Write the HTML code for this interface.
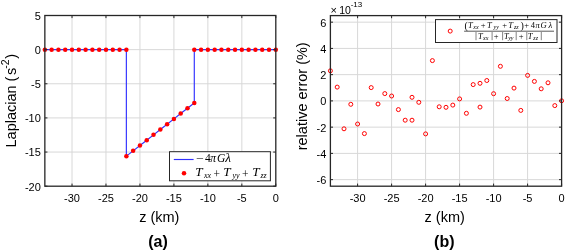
<!DOCTYPE html>
<html><head><meta charset="utf-8"><style>
html,body{margin:0;padding:0;background:#fff;width:565px;height:250px;overflow:hidden;font-family:"Liberation Sans",sans-serif;}
svg{display:block;will-change:transform;filter:blur(0.3px);}
</style></head><body>
<svg width="565" height="250" viewBox="0 0 565 250" font-family="Liberation Sans, sans-serif" fill="#000">
<rect width="565" height="250" fill="#fff"/>
<line x1="72.02" y1="15.5" x2="72.02" y2="186.2" stroke="#d8d8d8" stroke-width="1"/>
<line x1="105.98" y1="15.5" x2="105.98" y2="186.2" stroke="#d8d8d8" stroke-width="1"/>
<line x1="139.95" y1="15.5" x2="139.95" y2="186.2" stroke="#d8d8d8" stroke-width="1"/>
<line x1="173.91" y1="15.5" x2="173.91" y2="186.2" stroke="#d8d8d8" stroke-width="1"/>
<line x1="207.87" y1="15.5" x2="207.87" y2="186.2" stroke="#d8d8d8" stroke-width="1"/>
<line x1="241.84" y1="15.5" x2="241.84" y2="186.2" stroke="#d8d8d8" stroke-width="1"/>
<line x1="44.85" y1="49.64" x2="275.8" y2="49.64" stroke="#d8d8d8" stroke-width="1"/>
<line x1="44.85" y1="83.78" x2="275.8" y2="83.78" stroke="#d8d8d8" stroke-width="1"/>
<line x1="44.85" y1="117.92" x2="275.8" y2="117.92" stroke="#d8d8d8" stroke-width="1"/>
<line x1="44.85" y1="152.06" x2="275.8" y2="152.06" stroke="#d8d8d8" stroke-width="1"/>
<line x1="357.60" y1="15.6" x2="357.60" y2="186.2" stroke="#d8d8d8" stroke-width="1"/>
<line x1="391.60" y1="15.6" x2="391.60" y2="186.2" stroke="#d8d8d8" stroke-width="1"/>
<line x1="425.60" y1="15.6" x2="425.60" y2="186.2" stroke="#d8d8d8" stroke-width="1"/>
<line x1="459.60" y1="15.6" x2="459.60" y2="186.2" stroke="#d8d8d8" stroke-width="1"/>
<line x1="493.60" y1="15.6" x2="493.60" y2="186.2" stroke="#d8d8d8" stroke-width="1"/>
<line x1="527.60" y1="15.6" x2="527.60" y2="186.2" stroke="#d8d8d8" stroke-width="1"/>
<line x1="330.4" y1="22.16" x2="561.6" y2="22.16" stroke="#d8d8d8" stroke-width="1"/>
<line x1="330.4" y1="48.41" x2="561.6" y2="48.41" stroke="#d8d8d8" stroke-width="1"/>
<line x1="330.4" y1="74.65" x2="561.6" y2="74.65" stroke="#d8d8d8" stroke-width="1"/>
<line x1="330.4" y1="100.90" x2="561.6" y2="100.90" stroke="#d8d8d8" stroke-width="1"/>
<line x1="330.4" y1="127.15" x2="561.6" y2="127.15" stroke="#d8d8d8" stroke-width="1"/>
<line x1="330.4" y1="153.39" x2="561.6" y2="153.39" stroke="#d8d8d8" stroke-width="1"/>
<line x1="330.4" y1="179.64" x2="561.6" y2="179.64" stroke="#d8d8d8" stroke-width="1"/>
<polyline points="44.85,49.64 51.64,49.64 58.44,49.64 65.23,49.64 72.02,49.64 78.81,49.64 85.61,49.64 92.40,49.64 99.19,49.64 105.98,49.64 112.78,49.64 119.57,49.64 126.36,49.64 126.36,156.16 133.15,150.83 139.95,145.51 146.74,140.18 153.53,134.85 160.33,129.53 167.12,124.20 173.91,118.88 180.70,113.55 187.50,108.22 194.29,102.90 194.29,49.64 201.08,49.64 207.87,49.64 214.67,49.64 221.46,49.64 228.25,49.64 235.04,49.64 241.84,49.64 248.63,49.64 255.42,49.64 262.21,49.64 269.01,49.64 275.80,49.64" fill="none" stroke="#3030ff" stroke-width="1.15"/>
<circle cx="44.85" cy="49.64" r="2.25" fill="#ff0000"/>
<circle cx="51.64" cy="49.64" r="2.25" fill="#ff0000"/>
<circle cx="58.44" cy="49.64" r="2.25" fill="#ff0000"/>
<circle cx="65.23" cy="49.64" r="2.25" fill="#ff0000"/>
<circle cx="72.02" cy="49.64" r="2.25" fill="#ff0000"/>
<circle cx="78.81" cy="49.64" r="2.25" fill="#ff0000"/>
<circle cx="85.61" cy="49.64" r="2.25" fill="#ff0000"/>
<circle cx="92.40" cy="49.64" r="2.25" fill="#ff0000"/>
<circle cx="99.19" cy="49.64" r="2.25" fill="#ff0000"/>
<circle cx="105.98" cy="49.64" r="2.25" fill="#ff0000"/>
<circle cx="112.78" cy="49.64" r="2.25" fill="#ff0000"/>
<circle cx="119.57" cy="49.64" r="2.25" fill="#ff0000"/>
<circle cx="126.36" cy="49.64" r="2.25" fill="#ff0000"/>
<circle cx="126.36" cy="156.16" r="2.25" fill="#ff0000"/>
<circle cx="133.15" cy="150.83" r="2.25" fill="#ff0000"/>
<circle cx="139.95" cy="145.51" r="2.25" fill="#ff0000"/>
<circle cx="146.74" cy="140.18" r="2.25" fill="#ff0000"/>
<circle cx="153.53" cy="134.85" r="2.25" fill="#ff0000"/>
<circle cx="160.33" cy="129.53" r="2.25" fill="#ff0000"/>
<circle cx="167.12" cy="124.20" r="2.25" fill="#ff0000"/>
<circle cx="173.91" cy="118.88" r="2.25" fill="#ff0000"/>
<circle cx="180.70" cy="113.55" r="2.25" fill="#ff0000"/>
<circle cx="187.50" cy="108.22" r="2.25" fill="#ff0000"/>
<circle cx="194.29" cy="102.90" r="2.25" fill="#ff0000"/>
<circle cx="194.29" cy="49.64" r="2.25" fill="#ff0000"/>
<circle cx="201.08" cy="49.64" r="2.25" fill="#ff0000"/>
<circle cx="207.87" cy="49.64" r="2.25" fill="#ff0000"/>
<circle cx="214.67" cy="49.64" r="2.25" fill="#ff0000"/>
<circle cx="221.46" cy="49.64" r="2.25" fill="#ff0000"/>
<circle cx="228.25" cy="49.64" r="2.25" fill="#ff0000"/>
<circle cx="235.04" cy="49.64" r="2.25" fill="#ff0000"/>
<circle cx="241.84" cy="49.64" r="2.25" fill="#ff0000"/>
<circle cx="248.63" cy="49.64" r="2.25" fill="#ff0000"/>
<circle cx="255.42" cy="49.64" r="2.25" fill="#ff0000"/>
<circle cx="262.21" cy="49.64" r="2.25" fill="#ff0000"/>
<circle cx="269.01" cy="49.64" r="2.25" fill="#ff0000"/>
<circle cx="275.80" cy="49.64" r="2.25" fill="#ff0000"/>
<circle cx="330.40" cy="70.80" r="2.0" fill="none" stroke="#ff0000" stroke-width="1"/>
<circle cx="337.20" cy="87.10" r="2.0" fill="none" stroke="#ff0000" stroke-width="1"/>
<circle cx="344.00" cy="128.80" r="2.0" fill="none" stroke="#ff0000" stroke-width="1"/>
<circle cx="350.80" cy="104.30" r="2.0" fill="none" stroke="#ff0000" stroke-width="1"/>
<circle cx="357.60" cy="124.00" r="2.0" fill="none" stroke="#ff0000" stroke-width="1"/>
<circle cx="364.40" cy="133.60" r="2.0" fill="none" stroke="#ff0000" stroke-width="1"/>
<circle cx="371.20" cy="87.60" r="2.0" fill="none" stroke="#ff0000" stroke-width="1"/>
<circle cx="378.00" cy="104.00" r="2.0" fill="none" stroke="#ff0000" stroke-width="1"/>
<circle cx="384.80" cy="93.60" r="2.0" fill="none" stroke="#ff0000" stroke-width="1"/>
<circle cx="391.60" cy="96.00" r="2.0" fill="none" stroke="#ff0000" stroke-width="1"/>
<circle cx="398.40" cy="109.60" r="2.0" fill="none" stroke="#ff0000" stroke-width="1"/>
<circle cx="405.20" cy="120.20" r="2.0" fill="none" stroke="#ff0000" stroke-width="1"/>
<circle cx="412.00" cy="120.20" r="2.0" fill="none" stroke="#ff0000" stroke-width="1"/>
<circle cx="412.00" cy="97.30" r="2.0" fill="none" stroke="#ff0000" stroke-width="1"/>
<circle cx="418.80" cy="102.30" r="2.0" fill="none" stroke="#ff0000" stroke-width="1"/>
<circle cx="425.60" cy="133.90" r="2.0" fill="none" stroke="#ff0000" stroke-width="1"/>
<circle cx="432.40" cy="60.60" r="2.0" fill="none" stroke="#ff0000" stroke-width="1"/>
<circle cx="439.20" cy="106.80" r="2.0" fill="none" stroke="#ff0000" stroke-width="1"/>
<circle cx="446.00" cy="107.30" r="2.0" fill="none" stroke="#ff0000" stroke-width="1"/>
<circle cx="452.80" cy="105.10" r="2.0" fill="none" stroke="#ff0000" stroke-width="1"/>
<circle cx="459.60" cy="98.90" r="2.0" fill="none" stroke="#ff0000" stroke-width="1"/>
<circle cx="466.40" cy="113.30" r="2.0" fill="none" stroke="#ff0000" stroke-width="1"/>
<circle cx="473.20" cy="84.60" r="2.0" fill="none" stroke="#ff0000" stroke-width="1"/>
<circle cx="480.00" cy="83.30" r="2.0" fill="none" stroke="#ff0000" stroke-width="1"/>
<circle cx="480.00" cy="107.10" r="2.0" fill="none" stroke="#ff0000" stroke-width="1"/>
<circle cx="486.80" cy="80.50" r="2.0" fill="none" stroke="#ff0000" stroke-width="1"/>
<circle cx="493.60" cy="93.70" r="2.0" fill="none" stroke="#ff0000" stroke-width="1"/>
<circle cx="500.40" cy="66.30" r="2.0" fill="none" stroke="#ff0000" stroke-width="1"/>
<circle cx="507.20" cy="98.50" r="2.0" fill="none" stroke="#ff0000" stroke-width="1"/>
<circle cx="514.00" cy="88.10" r="2.0" fill="none" stroke="#ff0000" stroke-width="1"/>
<circle cx="520.80" cy="110.40" r="2.0" fill="none" stroke="#ff0000" stroke-width="1"/>
<circle cx="527.60" cy="75.40" r="2.0" fill="none" stroke="#ff0000" stroke-width="1"/>
<circle cx="534.40" cy="81.40" r="2.0" fill="none" stroke="#ff0000" stroke-width="1"/>
<circle cx="541.20" cy="88.80" r="2.0" fill="none" stroke="#ff0000" stroke-width="1"/>
<circle cx="548.00" cy="82.80" r="2.0" fill="none" stroke="#ff0000" stroke-width="1"/>
<circle cx="554.80" cy="105.60" r="2.0" fill="none" stroke="#ff0000" stroke-width="1"/>
<circle cx="561.60" cy="100.80" r="2.0" fill="none" stroke="#ff0000" stroke-width="1"/>
<line x1="72.02" y1="186.2" x2="72.02" y2="183.6" stroke="#262626" stroke-width="1"/>
<line x1="72.02" y1="15.5" x2="72.02" y2="18.1" stroke="#262626" stroke-width="1"/>
<line x1="105.98" y1="186.2" x2="105.98" y2="183.6" stroke="#262626" stroke-width="1"/>
<line x1="105.98" y1="15.5" x2="105.98" y2="18.1" stroke="#262626" stroke-width="1"/>
<line x1="139.95" y1="186.2" x2="139.95" y2="183.6" stroke="#262626" stroke-width="1"/>
<line x1="139.95" y1="15.5" x2="139.95" y2="18.1" stroke="#262626" stroke-width="1"/>
<line x1="173.91" y1="186.2" x2="173.91" y2="183.6" stroke="#262626" stroke-width="1"/>
<line x1="173.91" y1="15.5" x2="173.91" y2="18.1" stroke="#262626" stroke-width="1"/>
<line x1="207.87" y1="186.2" x2="207.87" y2="183.6" stroke="#262626" stroke-width="1"/>
<line x1="207.87" y1="15.5" x2="207.87" y2="18.1" stroke="#262626" stroke-width="1"/>
<line x1="241.84" y1="186.2" x2="241.84" y2="183.6" stroke="#262626" stroke-width="1"/>
<line x1="241.84" y1="15.5" x2="241.84" y2="18.1" stroke="#262626" stroke-width="1"/>
<line x1="275.80" y1="186.2" x2="275.80" y2="183.6" stroke="#262626" stroke-width="1"/>
<line x1="275.80" y1="15.5" x2="275.80" y2="18.1" stroke="#262626" stroke-width="1"/>
<line x1="44.85" y1="15.50" x2="47.45" y2="15.50" stroke="#262626" stroke-width="1"/>
<line x1="275.8" y1="15.50" x2="273.2" y2="15.50" stroke="#262626" stroke-width="1"/>
<line x1="44.85" y1="49.64" x2="47.45" y2="49.64" stroke="#262626" stroke-width="1"/>
<line x1="275.8" y1="49.64" x2="273.2" y2="49.64" stroke="#262626" stroke-width="1"/>
<line x1="44.85" y1="83.78" x2="47.45" y2="83.78" stroke="#262626" stroke-width="1"/>
<line x1="275.8" y1="83.78" x2="273.2" y2="83.78" stroke="#262626" stroke-width="1"/>
<line x1="44.85" y1="117.92" x2="47.45" y2="117.92" stroke="#262626" stroke-width="1"/>
<line x1="275.8" y1="117.92" x2="273.2" y2="117.92" stroke="#262626" stroke-width="1"/>
<line x1="44.85" y1="152.06" x2="47.45" y2="152.06" stroke="#262626" stroke-width="1"/>
<line x1="275.8" y1="152.06" x2="273.2" y2="152.06" stroke="#262626" stroke-width="1"/>
<line x1="44.85" y1="186.20" x2="47.45" y2="186.20" stroke="#262626" stroke-width="1"/>
<line x1="275.8" y1="186.20" x2="273.2" y2="186.20" stroke="#262626" stroke-width="1"/>
<rect x="44.85" y="15.5" width="230.95" height="170.70" fill="none" stroke="#262626" stroke-width="1.3"/>
<text x="72.02" y="201.7" font-size="11" text-anchor="middle">-30</text>
<text x="105.98" y="201.7" font-size="11" text-anchor="middle">-25</text>
<text x="139.95" y="201.7" font-size="11" text-anchor="middle">-20</text>
<text x="173.91" y="201.7" font-size="11" text-anchor="middle">-15</text>
<text x="207.87" y="201.7" font-size="11" text-anchor="middle">-10</text>
<text x="241.84" y="201.7" font-size="11" text-anchor="middle">-5</text>
<text x="275.80" y="201.7" font-size="11" text-anchor="middle">0</text>
<text x="40.85" y="19.90" font-size="11" text-anchor="end">5</text>
<text x="40.85" y="54.04" font-size="11" text-anchor="end">0</text>
<text x="40.85" y="88.18" font-size="11" text-anchor="end">-5</text>
<text x="40.85" y="122.32" font-size="11" text-anchor="end">-10</text>
<text x="40.85" y="156.46" font-size="11" text-anchor="end">-15</text>
<text x="40.85" y="190.60" font-size="11" text-anchor="end">-20</text>
<line x1="357.60" y1="186.2" x2="357.60" y2="183.6" stroke="#262626" stroke-width="1"/>
<line x1="357.60" y1="15.6" x2="357.60" y2="18.2" stroke="#262626" stroke-width="1"/>
<line x1="391.60" y1="186.2" x2="391.60" y2="183.6" stroke="#262626" stroke-width="1"/>
<line x1="391.60" y1="15.6" x2="391.60" y2="18.2" stroke="#262626" stroke-width="1"/>
<line x1="425.60" y1="186.2" x2="425.60" y2="183.6" stroke="#262626" stroke-width="1"/>
<line x1="425.60" y1="15.6" x2="425.60" y2="18.2" stroke="#262626" stroke-width="1"/>
<line x1="459.60" y1="186.2" x2="459.60" y2="183.6" stroke="#262626" stroke-width="1"/>
<line x1="459.60" y1="15.6" x2="459.60" y2="18.2" stroke="#262626" stroke-width="1"/>
<line x1="493.60" y1="186.2" x2="493.60" y2="183.6" stroke="#262626" stroke-width="1"/>
<line x1="493.60" y1="15.6" x2="493.60" y2="18.2" stroke="#262626" stroke-width="1"/>
<line x1="527.60" y1="186.2" x2="527.60" y2="183.6" stroke="#262626" stroke-width="1"/>
<line x1="527.60" y1="15.6" x2="527.60" y2="18.2" stroke="#262626" stroke-width="1"/>
<line x1="561.60" y1="186.2" x2="561.60" y2="183.6" stroke="#262626" stroke-width="1"/>
<line x1="561.60" y1="15.6" x2="561.60" y2="18.2" stroke="#262626" stroke-width="1"/>
<line x1="330.4" y1="22.16" x2="333.0" y2="22.16" stroke="#262626" stroke-width="1"/>
<line x1="561.6" y1="22.16" x2="559.0" y2="22.16" stroke="#262626" stroke-width="1"/>
<line x1="330.4" y1="48.41" x2="333.0" y2="48.41" stroke="#262626" stroke-width="1"/>
<line x1="561.6" y1="48.41" x2="559.0" y2="48.41" stroke="#262626" stroke-width="1"/>
<line x1="330.4" y1="74.65" x2="333.0" y2="74.65" stroke="#262626" stroke-width="1"/>
<line x1="561.6" y1="74.65" x2="559.0" y2="74.65" stroke="#262626" stroke-width="1"/>
<line x1="330.4" y1="100.90" x2="333.0" y2="100.90" stroke="#262626" stroke-width="1"/>
<line x1="561.6" y1="100.90" x2="559.0" y2="100.90" stroke="#262626" stroke-width="1"/>
<line x1="330.4" y1="127.15" x2="333.0" y2="127.15" stroke="#262626" stroke-width="1"/>
<line x1="561.6" y1="127.15" x2="559.0" y2="127.15" stroke="#262626" stroke-width="1"/>
<line x1="330.4" y1="153.39" x2="333.0" y2="153.39" stroke="#262626" stroke-width="1"/>
<line x1="561.6" y1="153.39" x2="559.0" y2="153.39" stroke="#262626" stroke-width="1"/>
<line x1="330.4" y1="179.64" x2="333.0" y2="179.64" stroke="#262626" stroke-width="1"/>
<line x1="561.6" y1="179.64" x2="559.0" y2="179.64" stroke="#262626" stroke-width="1"/>
<rect x="330.4" y="15.6" width="231.20" height="170.60" fill="none" stroke="#262626" stroke-width="1.3"/>
<text x="357.60" y="201.7" font-size="11" text-anchor="middle">-30</text>
<text x="391.60" y="201.7" font-size="11" text-anchor="middle">-25</text>
<text x="425.60" y="201.7" font-size="11" text-anchor="middle">-20</text>
<text x="459.60" y="201.7" font-size="11" text-anchor="middle">-15</text>
<text x="493.60" y="201.7" font-size="11" text-anchor="middle">-10</text>
<text x="527.60" y="201.7" font-size="11" text-anchor="middle">-5</text>
<text x="561.60" y="201.7" font-size="11" text-anchor="middle">0</text>
<text x="326.40" y="26.56" font-size="11" text-anchor="end">6</text>
<text x="326.40" y="52.81" font-size="11" text-anchor="end">4</text>
<text x="326.40" y="79.05" font-size="11" text-anchor="end">2</text>
<text x="326.40" y="105.30" font-size="11" text-anchor="end">0</text>
<text x="326.40" y="131.55" font-size="11" text-anchor="end">-2</text>
<text x="326.40" y="157.79" font-size="11" text-anchor="end">-4</text>
<text x="326.40" y="184.04" font-size="11" text-anchor="end">-6</text>
<rect x="169.5" y="151.7" width="100.9" height="29.1" fill="#fff" stroke="#262626" stroke-width="1"/>
<line x1="173.8" y1="159.5" x2="193.6" y2="159.5" stroke="#3030ff" stroke-width="1.15"/>
<circle cx="184" cy="173.3" r="2.25" fill="#ff0000"/>
<text transform="translate(196.00,162.20) scale(1.2,1)" font-family="Liberation Serif, serif" font-size="11.5" font-style="normal" fill="#000">−</text>
<text x="205.00" y="162.20" font-family="Liberation Serif, serif" font-size="11.5" font-style="normal" fill="#000">4</text>
<text x="210.30" y="162.20" font-family="Liberation Serif, serif" font-size="11.5" font-style="italic" fill="#000">π</text>
<text x="217.00" y="162.20" font-family="Liberation Serif, serif" font-size="11.5" font-style="italic" fill="#000">G</text>
<text transform="translate(225.20,162.20) scale(1.15,1)" font-family="Liberation Serif, serif" font-size="11.5" font-style="italic" fill="#000">λ</text>
<text transform="translate(195.30,175.60) scale(1.15,1)" font-family="Liberation Serif, serif" font-size="11.5" font-style="italic" fill="#000">T</text>
<text x="203.90" y="177.60" font-family="Liberation Serif, serif" font-size="8" font-style="italic" fill="#000">xx</text>
<text x="213.50" y="178.30" font-family="Liberation Serif, serif" font-size="11.5" font-style="normal" fill="#000">+</text>
<text transform="translate(223.20,175.60) scale(1.15,1)" font-family="Liberation Serif, serif" font-size="11.5" font-style="italic" fill="#000">T</text>
<text x="232.40" y="177.60" font-family="Liberation Serif, serif" font-size="8" font-style="italic" fill="#000">yy</text>
<text x="242.10" y="178.30" font-family="Liberation Serif, serif" font-size="11.5" font-style="normal" fill="#000">+</text>
<text transform="translate(252.20,175.60) scale(1.15,1)" font-family="Liberation Serif, serif" font-size="11.5" font-style="italic" fill="#000">T</text>
<text x="260.40" y="177.60" font-family="Liberation Serif, serif" font-size="8" font-style="italic" fill="#000">zz</text>
<rect x="435.5" y="19.6" width="121.5" height="22.9" fill="#fff" stroke="#262626" stroke-width="1"/>
<circle cx="450.2" cy="31.1" r="2.0" fill="none" stroke="#ff0000" stroke-width="1"/>
<line x1="464.1" y1="31.2" x2="554" y2="31.2" stroke="#111" stroke-width="0.7"/>
<text x="464.50" y="29.30" font-family="Liberation Serif, serif" font-size="10" font-style="normal" fill="#000">(</text>
<text x="468.00" y="27.90" font-family="Liberation Serif, serif" font-size="8.5" font-style="italic" fill="#000">T</text>
<text x="473.30" y="29.00" font-family="Liberation Serif, serif" font-size="6" font-style="italic" fill="#000">xx</text>
<text x="480.80" y="28.30" font-family="Liberation Serif, serif" font-size="8.5" font-style="normal" fill="#000">+</text>
<text x="487.10" y="27.90" font-family="Liberation Serif, serif" font-size="8.5" font-style="italic" fill="#000">T</text>
<text x="493.50" y="29.00" font-family="Liberation Serif, serif" font-size="6" font-style="italic" fill="#000">yy</text>
<text x="502.20" y="28.30" font-family="Liberation Serif, serif" font-size="8.5" font-style="normal" fill="#000">+</text>
<text x="508.30" y="27.90" font-family="Liberation Serif, serif" font-size="8.5" font-style="italic" fill="#000">T</text>
<text x="513.90" y="29.00" font-family="Liberation Serif, serif" font-size="6" font-style="italic" fill="#000">zz</text>
<text x="520.40" y="29.30" font-family="Liberation Serif, serif" font-size="10" font-style="normal" fill="#000">)</text>
<text x="524.20" y="28.30" font-family="Liberation Serif, serif" font-size="8.5" font-style="normal" fill="#000">+</text>
<text x="530.80" y="27.90" font-family="Liberation Serif, serif" font-size="8.5" font-style="normal" fill="#000">4</text>
<text x="535.60" y="27.90" font-family="Liberation Serif, serif" font-size="8.5" font-style="italic" fill="#000">π</text>
<text x="540.60" y="27.90" font-family="Liberation Serif, serif" font-size="8.5" font-style="italic" fill="#000">G</text>
<text x="548.40" y="27.90" font-family="Liberation Serif, serif" font-size="8.5" font-style="italic" fill="#000">λ</text>
<line x1="476" y1="32" x2="476" y2="40.2" stroke="#666" stroke-width="0.8"/>
<line x1="492.1" y1="32" x2="492.1" y2="40.2" stroke="#666" stroke-width="0.8"/>
<line x1="502.6" y1="32" x2="502.6" y2="40.2" stroke="#666" stroke-width="0.8"/>
<line x1="516.2" y1="32" x2="516.2" y2="40.2" stroke="#666" stroke-width="0.8"/>
<line x1="526.8" y1="32" x2="526.8" y2="40.2" stroke="#666" stroke-width="0.8"/>
<line x1="541.3" y1="32" x2="541.3" y2="40.2" stroke="#666" stroke-width="0.8"/>
<text x="478.10" y="38.50" font-family="Liberation Serif, serif" font-size="8.5" font-style="italic" fill="#000">T</text>
<text x="483.10" y="39.60" font-family="Liberation Serif, serif" font-size="6" font-style="italic" fill="#000">xx</text>
<text x="493.70" y="38.90" font-family="Liberation Serif, serif" font-size="8.5" font-style="normal" fill="#000">+</text>
<text x="504.00" y="38.50" font-family="Liberation Serif, serif" font-size="8.5" font-style="italic" fill="#000">T</text>
<text x="508.20" y="39.60" font-family="Liberation Serif, serif" font-size="6" font-style="italic" fill="#000">yy</text>
<text x="518.80" y="38.90" font-family="Liberation Serif, serif" font-size="8.5" font-style="normal" fill="#000">+</text>
<text x="527.70" y="38.50" font-family="Liberation Serif, serif" font-size="8.5" font-style="italic" fill="#000">T</text>
<text x="533.30" y="39.60" font-family="Liberation Serif, serif" font-size="6" font-style="italic" fill="#000">zz</text>
<text x="330.6" y="14.2" font-size="11">×</text>
<text x="339.2" y="13.5" font-size="10.5">10</text>
<text x="350.7" y="7.3" font-size="8">-13</text>
<text x="159.3" y="221.5" font-size="14.5" text-anchor="middle">z (km)</text>
<text x="444.7" y="221.5" font-size="14.5" text-anchor="middle">z (km)</text>
<text transform="translate(16.2,147.5) rotate(-90)" font-size="14.5">Laplacian (<tspan dx="1.6">s</tspan><tspan font-size="10.5" dy="-7" dx="-1.1">-2</tspan><tspan dy="7" dx="0.8">)</tspan></text>
<text transform="translate(307,96.3) rotate(-90)" font-size="14.5" text-anchor="middle">relative error (%)</text>
<text x="158" y="246.5" font-size="16" font-weight="bold" text-anchor="middle">(a)</text>
<text x="444.3" y="246.5" font-size="16" font-weight="bold" text-anchor="middle">(b)</text>
</svg>
</body></html>
